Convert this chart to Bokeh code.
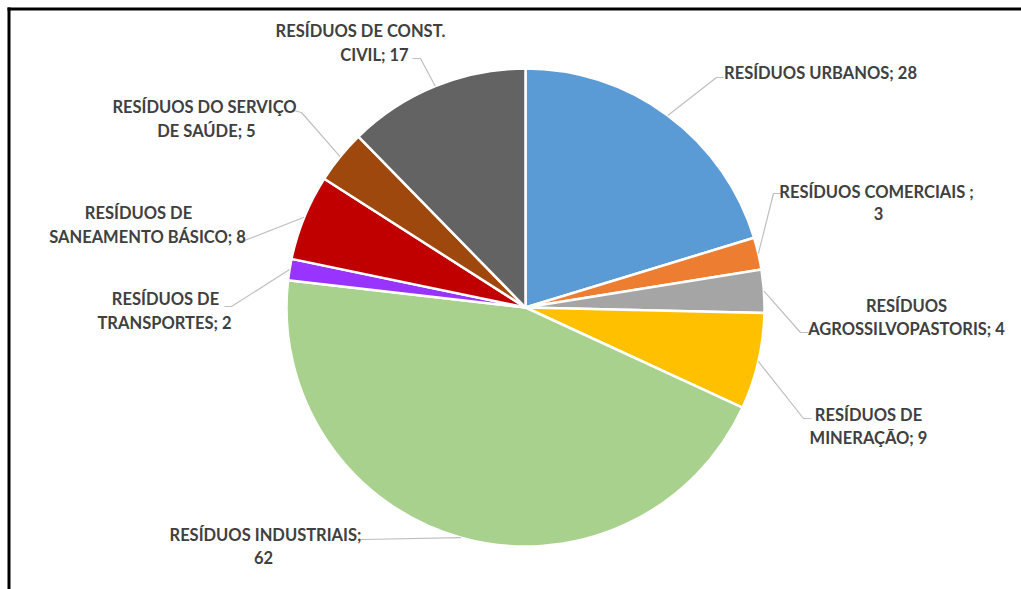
import numpy as np
from bokeh.plotting import figure
from bokeh.models import Range1d, ColumnDataSource
from bokeh.core.properties import value
from bokeh.embed import file_html
from bokeh.resources import INLINE

# ---------------- data ----------------
categories = [
    "RESÍDUOS URBANOS",
    "RESÍDUOS  COMERCIAIS ",
    "RESÍDUOS AGROSSILVOPASTORIS",
    "RESÍDUOS DE MINERAÇÃO",
    "RESÍDUOS INDUSTRIAIS",
    "RESÍDUOS DE TRANSPORTES",
    "RESÍDUOS DE SANEAMENTO BÁSICO",
    "RESÍDUOS DO SERVIÇO DE SAÚDE",
    "RESÍDUOS DE CONST. CIVIL",
]
values = [28, 3, 4, 9, 62, 2, 8, 5, 17]

# ---------------- style / layout ----------------
colors = ["#5B9BD5", "#ED7D31", "#A5A5A5", "#FFC000", "#A9D18E",
          "#9933FF", "#C00000", "#9E480E", "#636363"]
W, H = 1021, 589
CX, CY, R = 525, 307, 239          # pixel coords (y from top)
words_line1 = [None, 4, 1, 2, 2, 2, 2, 3, 3]
# line centres (x1, y1, x2, y2), pixel coords from top
label_pos = [
    (820, 72, None, None),
    (878, 191, 878, 213),
    (906, 305, 906, 328),
    (868, 414, 868, 437),
    (265, 534, 263, 557),
    (165, 298, 164, 322),
    (138, 212, 147, 236),
    (204, 106, 206, 130),
    (360, 30, 374, 54),
]
# leader attach point and elbow (pixel coords from top)
leader_pts = [
    (723, 77, 716, 77),
    (781, 193, 773, 193),
    (808, 332, 800, 332),
    (811, 418, 803, 418),
    (360, 539, 362, 539),
    (224, 306, 231, 306),
    (236, 240, 244, 240),
    (293, 110, 301, 112),
    (412, 58, 420, 58),
]

vals = np.array(values, dtype=float)
total = vals.sum()
cum = np.concatenate([[0], np.cumsum(vals)])
start = np.pi / 2 - 2 * np.pi * cum[:-1] / total
end = np.pi / 2 - 2 * np.pi * cum[1:] / total
mid = (start + end) / 2

p = figure(width=W, height=H, output_backend="svg", toolbar_location=None,
           x_range=Range1d(0, W), y_range=Range1d(0, H),
           x_axis_location=None, y_axis_location=None, min_border=0)
p.grid.visible = False
p.outline_line_color = None
p.background_fill_color = "white"
p.border_fill_color = "white"

src = ColumnDataSource(dict(start=start, end=end, color=colors,
                            cat=categories, val=values))
p.wedge(x=CX, y=H - CY, radius=R, start_angle="start", end_angle="end",
        direction="clock", fill_color="color", line_color="white",
        line_width=2.5, source=src)

# leader lines: label side -> slice midpoint on edge
xs, ys = [], []
for i, (ax, ay, ex, ey) in enumerate(leader_pts):
    px = CX + R * np.cos(mid[i])
    py = (H - CY) + R * np.sin(mid[i])
    xs.append([ax, ex, px])
    ys.append([H - ay, H - ey, py])
p.multi_line(xs, ys, line_color="#BFBFBF", line_width=1.2)

# labels
tx, ty, tt = [], [], []
for i, (cat, v) in enumerate(zip(categories, values)):
    full = f"{cat}; {v}"
    parts = full.split(" ")
    n1 = words_line1[i]
    x1, y1, x2, y2 = label_pos[i]
    if n1 is None:
        tx.append(x1); ty.append(H - y1); tt.append(full)
    else:
        tx.append(x1); ty.append(H - y1); tt.append(" ".join(parts[:n1]))
        tx.append(x2); ty.append(H - y2); tt.append(" ".join(parts[n1:]))
p.text(x=tx, y=ty, text=tt, text_align="center", text_baseline="middle",
       text_font=value("Lato"), text_font_style="bold",
       text_font_size="16.5px", text_color="#404040")

# frame lines (top and left)
p.segment(x0=[7, 8.5], y0=[H - 8.5, H - 7], x1=[W, 8.5], y1=[H - 8.5, 0],
          line_color="black", line_width=3)

open("out.html", "w").write(file_html(p, INLINE))
